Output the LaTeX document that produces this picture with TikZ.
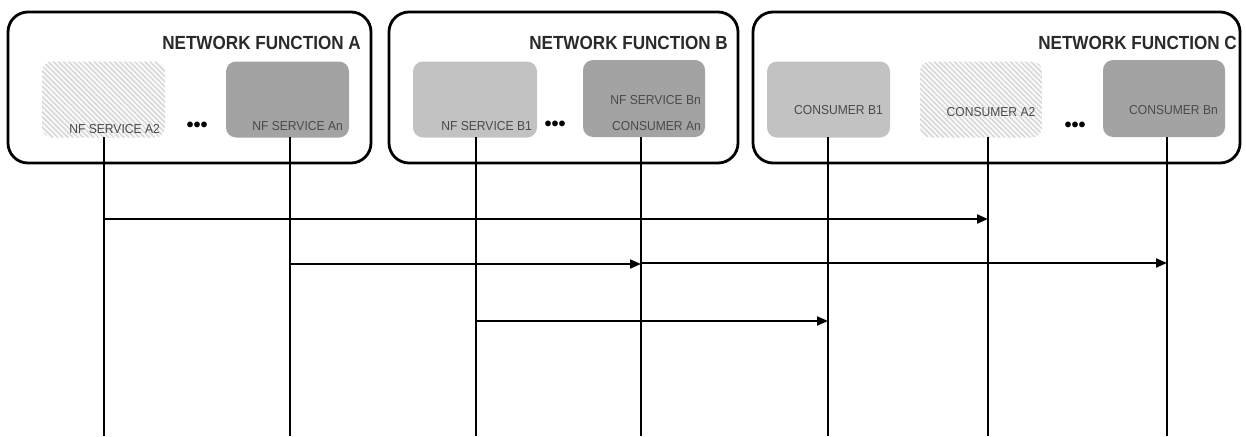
\documentclass[tikz,border=0pt]{standalone}
\usepackage{fontspec}
\setmainfont{Liberation Sans}
\newfontfamily\titlefont[FakeStretch=0.9]{Liberation Sans}
\newfontfamily\smallfont[FakeStretch=0.93]{Liberation Sans}
\usetikzlibrary{patterns.meta,arrows.meta}
\definecolor{lightbox}{HTML}{C2C2C2}
\definecolor{darkbox}{HTML}{A3A3A3}
\definecolor{txt}{HTML}{4A4A4A}
\definecolor{ttl}{HTML}{2A2A2A}
\tikzset{
  nfbox/.style={draw=black, line width=2.8pt, rounded corners=20pt, minimum height=151pt, inner sep=0pt},
  svc/.style={rounded corners=10pt, minimum width=123pt, minimum height=76pt, inner sep=0pt},
  lightsvc/.style={svc, fill=lightbox},
  darksvc/.style={svc, fill=darkbox},
  hatchsvc/.style={svc, preaction={fill=gray!5}, pattern={Lines[angle=-45,distance=3.6pt,line width=1.2pt]}, pattern color=gray!35},
  ttlstyle/.style={font=\titlefont\bfseries\fontsize{19}{21}\selectfont, text=ttl, anchor=east, inner sep=0pt},
  lbl/.style={font=\smallfont\fontsize{13}{15}\selectfont, text=txt, inner sep=0pt},
  dots/.style={font=\fontsize{20}{22}\selectfont\bfseries, text=black, inner sep=0pt},
  life/.style={line width=2pt, draw=black},
  msg/.style={line width=2pt, draw=black, -{Triangle[length=11pt,width=9pt]}}
}
\begin{document}
\begin{tikzpicture}[x=1pt,y=-1pt]
\useasboundingbox (0,0) rectangle (1246,436);
% outer network function boxes
\node[nfbox, minimum width=363pt] (nfA) at (189.5,87.5) {};
\node[nfbox, minimum width=349pt] (nfB) at (563.5,87.5) {};
\node[nfbox, minimum width=487pt] (nfC) at (996.5,87.5) {};
\node[ttlstyle] (tA) at (361,43) {NETWORK FUNCTION A};
\node[ttlstyle] (tB) at (728,43) {NETWORK FUNCTION B};
\node[ttlstyle] (tC) at (1237,43) {NETWORK FUNCTION C};
% inner service boxes
\node[hatchsvc] (a2) at (103.5,99.5) {};
\node[darksvc] (an) at (287.5,99.5) {};
\node[lightsvc, minimum width=124pt] (b1) at (475,99.5) {};
\node[darksvc, minimum width=122pt, minimum height=77pt] (bn) at (644,98.5) {};
\node[lightsvc] (cb1) at (828.5,99.5) {};
\node[hatchsvc, minimum width=122pt] (ca2) at (981,99.5) {};
\node[darksvc, minimum width=122pt, minimum height=77pt] (cbn) at (1164,98.5) {};
% labels
\node[lbl, anchor=east] (la2t) at (160,129) {NF SERVICE A2};
\node[lbl, anchor=east] (lant) at (343,126) {NF SERVICE An};
\node[lbl, anchor=east] (lb1t) at (532,126) {NF SERVICE B1};
\node[lbl, anchor=east] (lbnt) at (701,100) {NF SERVICE Bn};
\node[lbl, anchor=east] (lcat) at (701,126) {CONSUMER An};
\node[lbl] (lcb1t) at (838.5,110) {CONSUMER B1};
\node[lbl] (lca2t) at (991,112) {CONSUMER A2};
\node[lbl] (lcbnt) at (1173.5,110) {CONSUMER Bn};
% ellipses
\node[dots] (dA) at (197,127) {•••};
\node[dots] (dB) at (555,126) {•••};
\node[dots] (dC) at (1075,127) {•••};
% lifeline tops
\coordinate (La2) at (104,137);
\coordinate (Lan) at (290,137);
\coordinate (Lb1) at (476,137);
\coordinate (Lbn) at (641,137);
\coordinate (Lcb1) at (828,137);
\coordinate (Lca2) at (988,137);
\coordinate (Lcbn) at (1167,137);
\coordinate (bottom) at (0,436);
\foreach \c in {La2,Lan,Lb1,Lbn,Lcb1,Lca2,Lcbn}{
  \draw[life] (\c) -- (\c |- bottom);
}
% messages
\draw[msg] (La2 |- 0,219) -- (Lca2 |- 0,219);
\draw[msg] (Lan |- 0,264) -- (Lbn |- 0,264);
\draw[msg] (Lbn |- 0,263) -- (Lcbn |- 0,263);
\draw[msg] (Lb1 |- 0,321) -- (Lcb1 |- 0,321);
\end{tikzpicture}
\end{document}
